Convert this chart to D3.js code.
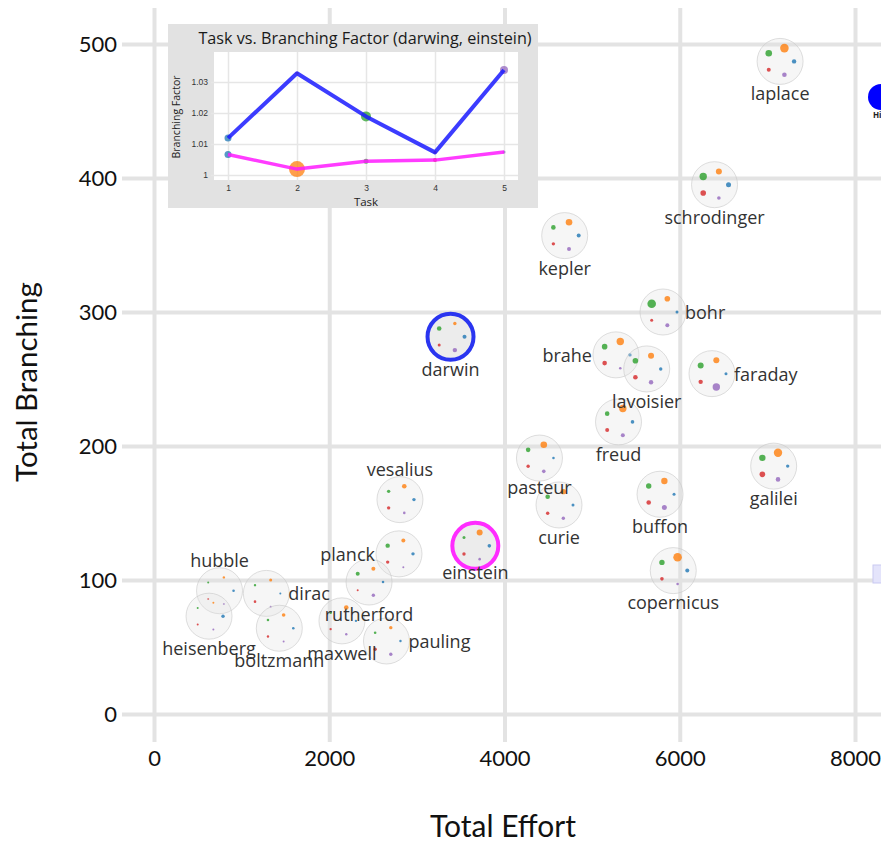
<!DOCTYPE html>
<html>
<head>
<meta charset="utf-8">
<script src="https://cdn.jsdelivr.net/npm/d3@7"></script>
<style>
  body { margin: 0; background: #fff; }
  svg { display: block; }
</style>
</head>
<body>
<div id="canvas"></div>
<script>
"use strict"

/* data: one glyph per scientist */
let names = ["laplace", "schrodinger", "kepler", "bohr", "brahe", "lavoisier", "faraday", "freud",
    "pasteur", "curie", "buffon", "galilei", "copernicus", "darwin", "einstein", "vesalius",
    "planck", "rutherford", "maxwell", "pauling", "hubble", "heisenberg", "dirac", "boltzmann"];
let effort = [7145, 6397, 4687, 5809, 5272, 5623, 6368, 5301,
    4399, 4622, 5775, 7072, 5926, 3384, 3667, 2807,
    2796, 2454, 2145, 2653, 748, 628, 1282, 1430];
let branching = [487, 395, 357, 300, 268, 257.5, 254, 218,
    191, 156, 164, 185, 107, 281.5, 125.5, 160,
    119.5, 98.5, 69.5, 54.5, 92, 73, 90, 64];

/* per-task scores (task 1..5), drawn as the small dots */
let taskScores = [
    [4.4, 8.6, 6.6, 4.0, 4.6], [5.0, 6.0, 7.4, 5.6, 3.6], [4.0, 6.6, 4.6, 3.4, 4.0],
    [3.0, 5.6, 8.6, 3.0, 4.0], [3.4, 7.4, 5.6, 4.6, 2.6], [3.4, 6.0, 5.6, 4.6, 4.4],
    [3.0, 6.0, 6.0, 4.4, 7.4], [3.6, 7.4, 4.6, 4.0, 4.0], [2.6, 6.6, 4.6, 3.4, 3.6],
    [3.0, 5.4, 4.6, 3.4, 3.4], [3.0, 6.4, 5.4, 4.6, 5.0], [3.4, 8.4, 6.4, 5.6, 4.6],
    [4.0, 8.6, 5.4, 3.6, 2.6], [4.0, 3.4, 4.6, 3.0, 4.4], [3.6, 6.0, 3.0, 3.4, 2.6],
    [3.4, 4.6, 3.4, 3.4, 2.6], [3.4, 4.0, 4.4, 3.4, 2.0], [2.6, 4.0, 4.0, 2.0, 3.4],
    [2.4, 4.6, 2.6, 2.4, 2.4], [2.4, 3.4, 2.6, 3.4, 3.4], [2.6, 2.4, 2.0, 2.0, 2.0],
    [3.4, 2.0, 2.0, 2.0, 2.0], [2.0, 3.0, 2.4, 2.6, 2.0], [2.6, 3.6, 2.6, 2.4, 2.0]
];

let xTicks = [0, 2000, 4000, 6000, 8000];
let yTicks = [0, 100, 200, 300, 400, 500];

/* inset: branching factor per task for the two selected scientists */
let tasks = [1, 2, 3, 4, 5];
let darwinFactor = [1.0119, 1.0328, 1.0189, 1.0073, 1.0339];
let einsteinFactor = [1.0066, 1.0019, 1.0044, 1.0048, 1.0074];
let darwinDotScore = [7, 3, 10, 3, 8];
let einsteinDotScore = [7, 16, 5, 4, 3];
let insetYTicks = [1, 1.01, 1.02, 1.03];

/* label placement (layout only) */
let labelSide = {
    laplace: "below", schrodinger: "below", kepler: "below", bohr: "right", brahe: "left",
    lavoisier: "below", faraday: "right", freud: "below", pasteur: "below", curie: "below",
    buffon: "below", galilei: "below", copernicus: "below", darwin: "below", einstein: "below",
    vesalius: "above", planck: "left", rutherford: "below", maxwell: "below", pauling: "right",
    hubble: "above", heisenberg: "below", dirac: "right", boltzmann: "below"
};
let labelNudge = { pasteur: -3, einstein: -6, copernicus: -1 };

/* drawing config */
let svgWidth = 881;
let svgHeight = 842;
let gridColor = "#e3e3e3";
let taskColors = ["#1f77b4", "#ff7f0e", "#2ca02c", "#d62728", "#9467bd"];
let glyphR = 23;
let ringR = 14;

let svg = d3.select("#canvas")
    .append("svg")
    .attr("width", svgWidth)
    .attr("height", svgHeight)
    .style("font-family", "'Open Sans', sans-serif");

let xScale = d3.scaleLinear().domain([0, 8000]).range([154, 855]);
let yScale = d3.scaleLinear().domain([0, 500]).range([714, 44]);
let dotScale = d3.scaleLinear().domain([0, 10]).range([0, 5]);

/* grid + axes */
let yAxis = svg.append("g")
    .attr("transform", "translate(122,0)")
    .call(d3.axisLeft(yScale).tickValues(yTicks).tickSize(-(svgWidth - 122)).tickPadding(5));
let xAxis = svg.append("g")
    .attr("transform", "translate(0,742)")
    .call(d3.axisBottom(xScale).tickValues(xTicks).tickFormat(d3.format("d")).tickSize(-734).tickPadding(8));

[yAxis, xAxis].forEach(function(ax) {
    ax.select(".domain").remove();
    ax.selectAll(".tick line")
        .attr("stroke", gridColor)
        .attr("stroke-width", 4);
    ax.selectAll(".tick text")
        .attr("fill", "#111")
        .style("font-family", "Lato, sans-serif")
        .style("font-size", "22px");
});

svg.append("text")
    .attr("x", 503)
    .attr("y", 837)
    .attr("text-anchor", "middle")
    .style("font-family", "Lato, sans-serif")
    .style("font-size", "30px")
    .attr("fill", "#111")
    .text("Total Effort");

svg.append("text")
    .attr("transform", "translate(37,382) rotate(-90)")
    .attr("text-anchor", "middle")
    .style("font-family", "Lato, sans-serif")
    .style("font-size", "29.5px")
    .attr("fill", "#111")
    .text("Total Branching");

/* glyphs */
let dataset = names.map(function(n, i) {
    return { name: n, effort: effort[i], branching: branching[i], scores: taskScores[i] };
});

let glyphs = svg.append("g").selectAll("g")
    .data(dataset)
    .join("g")
    .attr("transform", function(d) {
        return "translate(" + xScale(d.effort) + "," + yScale(d.branching) + ")";
    });

glyphs.append("circle")
    .attr("r", glyphR)
    .attr("fill", function(d) {
        return (d.name === "darwin" || d.name === "einstein") ? "#ececec" : "rgba(225,225,225,0.3)";
    })
    .attr("stroke", function(d) {
        if (d.name === "darwin") return "#2a35f0";
        if (d.name === "einstein") return "#ff2cff";
        return "rgba(200,200,200,0.6)";
    })
    .attr("stroke-width", function(d) {
        return (d.name === "darwin" || d.name === "einstein") ? 4 : 1;
    });

glyphs.selectAll(".dot")
    .data(function(d) { return d.scores; })
    .join("circle")
    .attr("class", "dot")
    .attr("cx", function(s, i) { return ringR * Math.cos(-i * 2 * Math.PI / 5); })
    .attr("cy", function(s, i) { return ringR * Math.sin(-i * 2 * Math.PI / 5); })
    .attr("r", function(s) { return dotScale(s); })
    .attr("fill", function(s, i) { return taskColors[i]; })
    .attr("opacity", 0.8);

/* labels drawn on top */
let labels = svg.append("g").selectAll("text")
    .data(dataset)
    .join("text")
    .attr("fill", "#333")
    .style("font-size", "18px")
    .text(function(d) { return d.name; })
    .each(function(d) {
        let cx = xScale(d.effort), cy = yScale(d.branching);
        let side = labelSide[d.name];
        let nudge = labelNudge[d.name] || 0;
        let t = d3.select(this);
        if (side === "below") {
            t.attr("x", cx).attr("y", cy + 39 + nudge).attr("text-anchor", "middle");
        } else if (side === "above") {
            t.attr("x", cx).attr("y", cy - 24 + nudge).attr("text-anchor", "middle");
        } else if (side === "right") {
            t.attr("x", cx + 22).attr("y", cy + 7 + nudge).attr("text-anchor", "start");
        } else {
            t.attr("x", cx - 24).attr("y", cy + 7 + nudge).attr("text-anchor", "end");
        }
    });

/* cut-off legend items on the right edge */
svg.append("circle")
    .attr("cx", 881)
    .attr("cy", 97)
    .attr("r", 13)
    .attr("fill", "#0000ff");
svg.append("text")
    .attr("x", 873)
    .attr("y", 118)
    .style("font-size", "8px")
    .style("font-weight", "bold")
    .attr("fill", "#222")
    .text("Hi");
svg.append("rect")
    .attr("x", 873)
    .attr("y", 565)
    .attr("width", 12)
    .attr("height", 18)
    .attr("fill", "#e4e4fb")
    .attr("stroke", "#c9c9f2");

/* inset chart */
let inset = svg.append("g");
inset.append("rect")
    .attr("x", 168)
    .attr("y", 24)
    .attr("width", 370)
    .attr("height", 184)
    .attr("fill", "#e2e2e2");

inset.append("text")
    .attr("x", 365)
    .attr("y", 44)
    .attr("text-anchor", "middle")
    .style("font-size", "16.2px")
    .attr("fill", "#1a1a1a")
    .text("Task vs. Branching Factor (darwing, einstein)");

let ix = d3.scaleLinear().domain([1, 5]).range([228, 504]);
let iy = d3.scaleLinear().domain([1, 1.03]).range([175, 82]);
let iDot = d3.scaleLinear().domain([0, 10]).range([0, 5]);

inset.append("rect")
    .attr("x", 214)
    .attr("y", 52)
    .attr("width", 304)
    .attr("height", 128)
    .attr("fill", "#fff");

let ixAxis = inset.append("g")
    .attr("transform", "translate(0,183)")
    .call(d3.axisBottom(ix).tickValues(tasks).tickFormat(d3.format("d")).tickSize(-131).tickPadding(2));
let iyAxis = inset.append("g")
    .attr("transform", "translate(211,0)")
    .call(d3.axisLeft(iy).tickValues(insetYTicks).tickFormat(function(d) { return d === 1 ? "1" : d3.format(".2f")(d); }).tickSize(-307).tickPadding(3));

[ixAxis, iyAxis].forEach(function(ax) {
    ax.select(".domain").remove();
    ax.selectAll(".tick line")
        .attr("stroke", "#e6e6e6")
        .attr("stroke-width", 1.5);
    ax.selectAll(".tick text")
        .attr("fill", "#333")
        .style("font-size", "8.5px");
});

inset.append("text")
    .attr("x", 366)
    .attr("y", 206)
    .attr("text-anchor", "middle")
    .style("font-size", "11.5px")
    .attr("fill", "#222")
    .text("Task");

inset.append("text")
    .attr("transform", "translate(180,117) rotate(-90)")
    .attr("text-anchor", "middle")
    .style("font-size", "10.5px")
    .attr("fill", "#222")
    .text("Branching Factor");

let series = [
    { values: darwinFactor, dots: darwinDotScore, color: "#1a1aff", width: 4 },
    { values: einsteinFactor, dots: einsteinDotScore, color: "#ff1aff", width: 3.5 }
];

series.forEach(function(s) {
    inset.append("g").selectAll("circle")
        .data(tasks)
        .join("circle")
        .attr("cx", function(t) { return ix(t); })
        .attr("cy", function(t, i) { return iy(s.values[i]); })
        .attr("r", function(t, i) { return iDot(s.dots[i]); })
        .attr("fill", function(t, i) { return taskColors[i]; })
        .attr("opacity", 0.75);
});

let line = d3.line()
    .x(function(d, i) { return ix(tasks[i]); })
    .y(function(d) { return iy(d); });

series.forEach(function(s) {
    inset.append("path")
        .datum(s.values)
        .attr("d", line)
        .attr("fill", "none")
        .attr("stroke", s.color)
        .attr("stroke-width", s.width)
        .attr("stroke-opacity", 0.85)
        .attr("stroke-linejoin", "round");
});
</script>
</body>
</html>
